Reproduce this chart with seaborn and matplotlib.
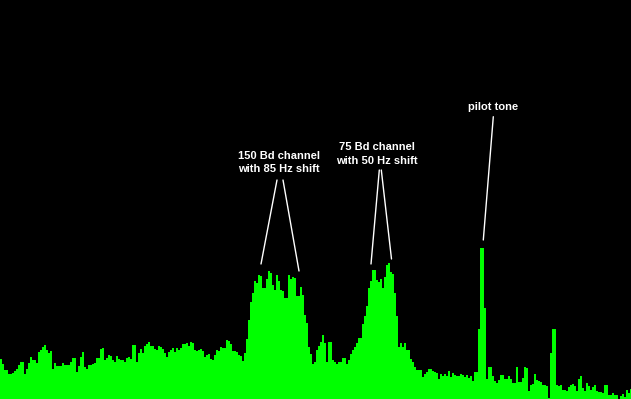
import matplotlib
matplotlib.use("Agg")
import matplotlib.pyplot as plt
import seaborn as sns
import pandas as pd

# Spectrum levels (one value per 2-pixel frequency bin, read from the display)
levels = [
    40, 35, 29, 29, 25, 25, 26, 28, 30, 34, 37, 37, 25, 30, 36, 42, 39, 39, 36, 47,
    49, 52, 54, 49, 46, 48, 30, 36, 33, 33, 33, 36, 34, 34, 34, 37, 41, 41, 27, 33,
    42, 47, 32, 30, 34, 34, 35, 36, 41, 41, 50, 51,
    39, 41, 44, 43, 39, 37, 43, 40, 39, 39, 37, 41, 42, 40, 54, 54, 37, 46, 50, 46,
    53, 55, 57, 53, 53, 50, 49, 53, 52, 50, 46, 42, 47, 49, 51, 47, 51, 49, 51, 55,
    55, 56, 53, 57, 56, 49, 48, 49, 50, 48, 42, 44,
    45, 40, 39, 44, 49, 48, 52, 51, 51, 59, 58, 55, 48, 48, 47, 44, 43, 38, 46, 60,
    79, 97, 106, 118, 116, 124, 123, 111, 111, 120, 128, 126, 114, 109, 124, 118, 109, 108, 101, 101,
    124, 120, 122, 121, 103, 103, 112, 104, 84, 76, 52, 45,
    35, 37, 49, 53, 57, 64, 56, 37, 57, 57, 39, 37, 35, 37, 37, 41, 41, 35, 39, 45,
    49, 52, 56, 61, 61, 75, 83, 93, 111, 118, 129, 129, 119, 117, 120, 111, 122, 134, 136, 127,
    125, 106, 83, 52, 56, 52, 56, 49, 49, 40, 37, 32,
    29, 29, 29, 22, 25, 27, 30, 30, 28, 27, 26, 20, 25, 23, 25, 23, 28, 22, 26, 24,
    23, 23, 25, 24, 22, 24, 21, 23, 18, 27, 27, 70, 151, 151, 91, 20, 32, 32, 23, 18,
    16, 19, 24, 24, 20, 20, 23, 20, 16, 16, 32, 17,
    17, 21, 32, 31, 8, 14, 15, 25, 19, 18, 17, 14, 14, 13, 1, 46, 70, 70, 14, 13,
    14, 9, 9, 8, 12, 14, 15, 13, 8, 20, 23, 11, 8, 16, 13, 9, 12, 14, 8, 7,
    7, 6, 14, 14, 4, 4, 6, 4, 4, 0, 3, 5, 2, 9, 6, 10,
]
bins = list(range(len(levels)))

# Annotations: label lines and pointer lines (image pixel coordinates)
labels = [
    ("150 Bd channel", 278.5, 159),
    ("with 85 Hz shift", 278.5, 172),
    ("75 Bd channel", 377, 150.5),
    ("with 50 Hz shift", 377, 164),
    ("pilot tone", 493, 110),
]
pointers = [
    ((277, 180), (261, 264)),
    ((283, 180), (299, 271)),
    ((379.3, 170), (371, 264)),
    ((381.3, 170), (391.5, 259)),
    ((493.3, 116.7), (483.3, 240)),
]

W, H = 631, 399

sns.set_style("dark")
fig = plt.figure(figsize=(W / 100, H / 100), dpi=100, facecolor="black")
ax = fig.add_axes([0, 0, 1, 1])
ax.set_facecolor("black")

df = pd.DataFrame({"bin": bins, "level": levels})
sns.barplot(data=df, x="bin", y="level", color="#00ff00", saturation=1,
            width=1.0, linewidth=0, ax=ax)
for p in ax.patches:
    p.set_antialiased(False)

ax.set_xlim(-0.5, -0.5 + W / 2)
ax.set_ylim(0, H)
ax.axis("off")


def to_data(px, py):
    return px / 2 - 0.5, H - py


for s, px, py in labels:
    x, y = to_data(px, py)
    ax.text(x, y, s, ha="center", va="baseline", color="white",
            fontsize=8.0, fontweight="bold", family=["Liberation Sans", "DejaVu Sans"])

for (p1, p2) in pointers:
    x1, y1 = to_data(*p1)
    x2, y2 = to_data(*p2)
    ax.plot([x1, x2], [y1, y2], color="white", lw=1.0)

fig.savefig("out.png", dpi=100, facecolor="black")
